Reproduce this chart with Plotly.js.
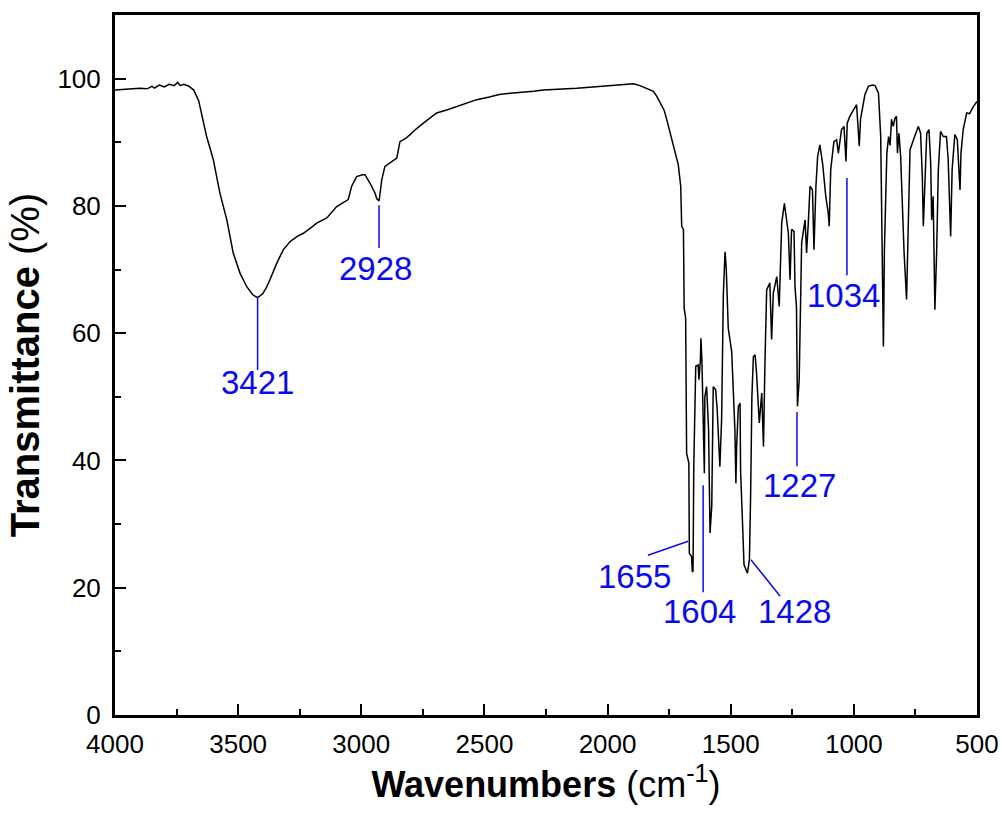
<!DOCTYPE html>
<html>
<head>
<meta charset="utf-8">
<script src="https://cdn.plot.ly/plotly-3.0.1.min.js"></script>
<style>html,body{margin:0;padding:0;background:#fff;}#chart{width:1002px;height:815px;}</style>
</head>
<body>
<div id="chart"></div>
<script>
// Spectrum: wavenumber (cm-1) and transmittance (%)
const wavenumbers = [4000,3950,3900,3870,3850,3840,3820,3800,3780,3760,3745,3735,3720,3700,3680,3660,3640,3628,3601,3574,3546,3520,3492,3465,3440,3421,3400,3385,3371,3343,3317,3289,3260,3235,3200,3181,3140,3100,3070,3053,3039,3019,2995,2985,2965,2944,2937,2928,2922,2917,2904,2880,2856,2843,2820,2802,2780,2748,2720,2694,2650,2613,2570,2531,2480,2440,2396,2350,2300,2261,2200,2125,2060,1990,1940,1895,1868,1840,1814,1800,1787,1770,1760,1740,1726,1713,1703,1699,1692,1689,1683,1679,1670,1668,1659,1656,1653,1650,1642,1632,1629,1623,1621,1617,1607,1605,1598,1590,1584,1577,1571,1561,1555,1544,1537,1530,1523,1518,1510,1496,1483,1479,1476,1469,1462,1460,1452,1446,1432,1424,1419,1414,1408,1401,1395,1384,1374,1367,1361,1354,1341,1334,1327,1313,1303,1293,1282,1273,1266,1259,1253,1243,1239,1233,1229,1222,1219,1212,1198,1192,1185,1178,1168,1162,1154,1147,1138,1127,1114,1104,1100,1094,1081,1070,1063,1050,1040,1032,1027,1016,989,982,978,973,955,941,925,914,900,891,887,880,876,866,859,853,847,840,833,827,823,817,810,802,796,786,779,772,758,738,729,722,718,711,704,695,688,684,678,671,664,657,648,637,624,617,607,601,590,580,573,569,565,556,542,530,515,500];
const transmittance = [98.2,98.3,98.5,98.4,98.8,98.5,99.0,98.7,99.1,98.9,99.4,98.9,99.1,98.8,98.2,96.5,93.0,90.9,87.3,82.0,77.8,72.6,69.4,67.3,66.0,65.6,66.2,67.2,68.4,71.0,73.1,74.4,75.2,75.7,76.7,77.3,78.1,79.9,80.6,81.0,83.1,84.6,84.9,84.9,83.6,82.0,81.1,80.8,82.5,84.1,86.2,86.9,87.5,90.1,90.6,91.2,92.0,93.0,93.9,94.6,95.1,95.6,96.2,96.7,97.1,97.5,97.7,97.8,98.0,98.2,98.3,98.5,98.7,98.9,99.1,99.2,98.9,98.4,98.0,97.2,96.2,95.0,93.6,90.4,88.3,86.5,83.1,76.8,76.3,63.9,62.4,41.1,39.6,25.4,24.9,22.5,22.6,39.0,54.8,55.0,52.7,55.8,59.2,55.8,38.0,50.0,51.6,45.0,28.6,32.8,51.6,51.1,48.0,39.0,46.4,66.0,72.8,70.0,60.8,57.1,44.8,36.4,42.2,48.5,49.0,38.5,30.1,23.6,22.3,24.4,34.9,50.0,56.3,56.6,53.7,45.9,50.6,42.2,55.3,66.8,67.9,59.0,66.3,68.9,64.2,77.3,80.4,77.3,75.7,68.4,76.3,76.0,67.3,64.2,48.5,52.7,61.1,74.2,77.8,72.6,77.3,83.1,82.5,73.1,83.1,87.8,89.6,86.7,81.5,78.9,76.8,85.7,90.1,90.4,88.3,92.0,92.5,87.0,93.0,94.1,95.9,92.0,89.4,93.6,97.5,98.8,99.0,98.9,97.7,90.9,77.8,57.9,73.1,88.3,90.9,89.5,93.6,92.5,93.8,94.1,88.3,91.4,87.8,78.9,72.6,65.3,77.8,88.8,90.4,92.5,91.4,84.6,76.8,85.7,91.4,92.0,86.7,77.8,81.5,63.7,72.6,85.7,91.7,90.9,90.9,87.3,75.2,85.7,91.2,90.4,84.1,82.5,88.3,92.0,94.6,94.5,95.6,96.4];

// Peak labels
const peakLabels = ["3421","2928","1655","1604","1428","1227","1034"];
const lineX0 = [3421,2928,1836,1612,1418,1231,1028];
const lineY0 = [65.7,80.1,25.1,36.1,24.4,47.6,84.4];
const lineX1 = [3421,2928,1673,1612,1300,1231,1028];
const lineY1 = [54.2,73.4,27.3,19.3,18.7,39.1,69.1];
const textX = [3421,2944,1889,1625,1239,1219,1044];
const textY = [52.3,70.2,21.8,16.2,16.2,36.1,66.0];

const xTickVals = [4000,3500,3000,2500,2000,1500,1000,500];
const yTickVals = [0,20,40,60,80,100];

const labelColor = '#0a0af0';
const fam = 'Liberation Sans, Arial, sans-serif';
const shapes = peakLabels.map((_, i) => ({
  type: 'line', xref: 'x', yref: 'y',
  x0: lineX0[i], y0: lineY0[i], x1: lineX1[i], y1: lineY1[i],
  line: {color: labelColor, width: 1.5}
}));
const annotations = peakLabels.map((t, i) => ({
  x: textX[i], y: textY[i], xref: 'x', yref: 'y', text: t,
  showarrow: false, xanchor: 'center', yanchor: 'middle',
  font: {family: fam, size: 33, color: labelColor}
}));

const trace = {
  x: wavenumbers, y: transmittance, type: 'scatter', mode: 'lines',
  line: {color: '#000', width: 1.5}, hoverinfo: 'skip'
};

const axisFont = {family: fam, size: 26, color: '#000'};
const layout = {
  width: 1002, height: 815,
  margin: {l: 115, r: 25, t: 15, b: 100},
  paper_bgcolor: '#fff', plot_bgcolor: '#fff',
  showlegend: false,
  xaxis: {
    range: [4000, 500], tickvals: xTickVals, ticktext: xTickVals.map(String),
    ticks: 'inside', ticklen: 11, tickwidth: 2, tickcolor: '#000',
    minor: {dtick: 250, tick0: 0, ticks: 'inside', ticklen: 6, tickwidth: 2, tickcolor: '#000'},
    showline: true, linecolor: '#000', linewidth: 3, mirror: true,
    showgrid: false, zeroline: false, tickfont: axisFont, ticklabelstandoff: 4,
    title: {text: '<b>Wavenumbers</b> (cm<sup>-1</sup>)', font: {family: fam, size: 36, color: '#000'}, standoff: 14}
  },
  yaxis: {
    range: [0, 110], tickvals: yTickVals, ticktext: yTickVals.map(String),
    ticks: 'inside', ticklen: 11, tickwidth: 2, tickcolor: '#000',
    minor: {dtick: 10, tick0: 0, ticks: 'inside', ticklen: 6, tickwidth: 2, tickcolor: '#000'},
    showline: true, linecolor: '#000', linewidth: 3, mirror: true,
    showgrid: false, zeroline: false, tickfont: axisFont, ticklabelstandoff: 6,
    title: {text: '<b>Transmittance</b> (%)', font: {family: fam, size: 40, color: '#000'}, standoff: 6}
  },
  shapes: shapes,
  annotations: annotations
};

Plotly.newPlot('chart', [trace], layout, {staticPlot: true, displayModeBar: false});
</script>
</body>
</html>
